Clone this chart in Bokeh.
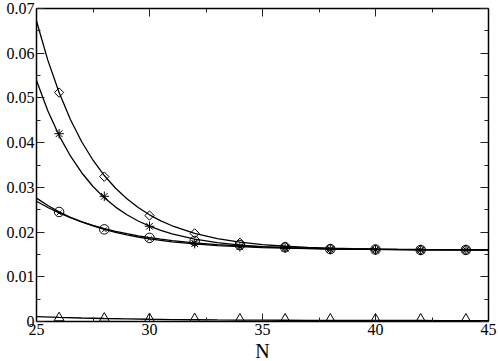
from bokeh.plotting import figure
from bokeh.models import FixedTicker, LinearAxis, Title, Range1d, CustomJSTickFormatter
from bokeh.embed import file_html
from bokeh.resources import INLINE

# ---- data ----
N = [26, 28, 30, 32, 34, 36, 38, 40, 42, 44]
diamond_y = [0.0512, 0.0324, 0.0237, 0.0197, 0.0176, 0.0167, 0.0163, 0.0161, 0.0160, 0.0160]
star_y = [0.0420, 0.0280, 0.0213, 0.0174, 0.0167, 0.0164, 0.0161, 0.0160, 0.0160, 0.0160]
circle_y = [0.0245, 0.0206, 0.0187, 0.0180, 0.0171, 0.0166, 0.0162, 0.0161, 0.0160, 0.0160]
cross_y = [0.0243, 0.0205, 0.0185, 0.0177, 0.0169, 0.0165, 0.0162, 0.0161, 0.0160, 0.0160]
tri_y = [0.0008, 0.0007, 0.0006, 0.0006, 0.0005, 0.0005, 0.0005, 0.0005, 0.0005, 0.0005]

# fitted curves
fit_N = [25, 25.5, 26, 26.5, 27, 27.5, 28, 28.5, 29, 29.5, 30, 30.5, 31,
         32, 33, 34, 35, 36, 37, 38, 39, 40, 41, 42, 43, 44, 45]
diamond_fit = [0.0672, 0.05845, 0.0512, 0.04519, 0.0402, 0.03607, 0.03264, 0.0298, 0.02744,
               0.02549, 0.02386, 0.02252, 0.02141, 0.01972, 0.01855, 0.01776, 0.01721, 0.01683,
               0.01657, 0.01639, 0.01627, 0.01618, 0.01613, 0.01609, 0.01606, 0.01604, 0.01603]
star_fit = [0.0539, 0.04714, 0.04158, 0.03702, 0.03327, 0.03019, 0.02765, 0.02558, 0.02387,
            0.02247, 0.02131, 0.02036, 0.01959, 0.01842, 0.01763, 0.0171, 0.01674, 0.0165,
            0.01634, 0.01623, 0.01616, 0.01611, 0.01607, 0.01605, 0.01603, 0.01602, 0.01602]
circle_fit = [0.0276, 0.02594, 0.02453, 0.02331, 0.02227, 0.02137, 0.02061, 0.01995, 0.01938,
              0.0189, 0.01849, 0.01813, 0.01783, 0.01734, 0.01699, 0.01673, 0.01653, 0.01639,
              0.01629, 0.01621, 0.01616, 0.01611, 0.01608, 0.01606, 0.01605, 0.01603, 0.01602]
cross_fit = [0.0269, 0.0255, 0.02428, 0.02322, 0.0223, 0.02149, 0.02079, 0.02017, 0.01964,
             0.01917, 0.01876, 0.01841, 0.0181, 0.0176, 0.01721, 0.01692, 0.0167, 0.01653,
             0.0164, 0.01631, 0.01623, 0.01618, 0.01614, 0.0161, 0.01608, 0.01606, 0.01604]
tri_fit_N = [25, 26, 27, 28, 29, 30, 31, 32, 33, 34, 35, 36, 37, 38, 39, 40, 41, 42, 43, 44, 45]
tri_fit = [0.0011, 0.00092, 0.00078, 0.00067, 0.00058, 0.0005, 0.00044, 0.00039, 0.00035,
           0.00032, 0.0003, 0.00028, 0.00026, 0.00025, 0.00024, 0.00023, 0.00022, 0.00022,
           0.00021, 0.00021, 0.00021]

x_ticks = [25, 30, 35, 40, 45]
x_minor = [27.5, 32.5, 37.5, 42.5]
y_ticks = [0, 0.01, 0.02, 0.03, 0.04, 0.05, 0.06, 0.07]
y_minor = [0.005, 0.015, 0.025, 0.035, 0.045, 0.055, 0.065]
x_title = "N"

FONT = "'Liberation Serif', 'Times New Roman', serif"

p = figure(width=498, height=361, x_range=Range1d(25, 45), y_range=Range1d(0, 0.07),
           output_backend="svg", toolbar_location=None,
           x_axis_location=None, y_axis_location=None,
           min_border_left=36, min_border_right=10, min_border_top=8, min_border_bottom=38)
p.xgrid.visible = False
p.ygrid.visible = False
p.outline_line_color = None
p.background_fill_color = "white"


def make_axis(ticker, show_labels):
    ax = LinearAxis(ticker=ticker,
                    major_tick_in=8, major_tick_out=0,
                    minor_tick_in=4, minor_tick_out=0,
                    axis_line_color="black", axis_line_width=1.5,
                    major_tick_line_color="#222222", minor_tick_line_color="#222222",
                    major_label_text_font=FONT,
                    major_label_text_font_style="normal",
                    major_label_text_font_size="16px" if show_labels else "0px",
                    major_label_text_color="black" if show_labels else None,
                    major_label_standoff=2 if show_labels else 0)
    return ax


xt = FixedTicker(ticks=x_ticks, minor_ticks=x_minor)
yt = FixedTicker(ticks=y_ticks, minor_ticks=y_minor)
y_fmt = CustomJSTickFormatter(code="return tick == 0 ? '0' : tick.toFixed(2);")

bx = make_axis(xt, True)
lx = make_axis(yt, True)
lx.formatter = y_fmt
p.add_layout(bx, "below")
p.add_layout(make_axis(xt, False), "above")
p.add_layout(lx, "left")
p.add_layout(make_axis(yt, False), "right")

LW = 1.3
for yy in (diamond_fit, star_fit, circle_fit, cross_fit):
    p.line(fit_N, yy, line_color="black", line_width=LW)
p.line(tri_fit_N, tri_fit, line_color="black", line_width=LW)

p.scatter(N, diamond_y, marker="square", angle=0.7853981634, size=6.6,
          fill_color=None, line_color="black", line_width=1)
p.scatter(N, star_y, marker="asterisk", size=9.5, line_color="black", line_width=1)
p.scatter(N, circle_y, marker="circle", size=9.5, fill_color=None, line_color="black", line_width=1)
p.scatter(N, cross_y, marker="x", size=6.5, line_color="black", line_width=1)
p.scatter(N, tri_y, marker="triangle", size=10, fill_color=None, line_color="black", line_width=1)

p.add_layout(Title(text=x_title, text_font=FONT, text_font_size="20px", text_font_style="normal",
                   align="center", offset=75, standoff=0, text_color="black"), "below")

open("out.html", "w").write(file_html(p, INLINE))
